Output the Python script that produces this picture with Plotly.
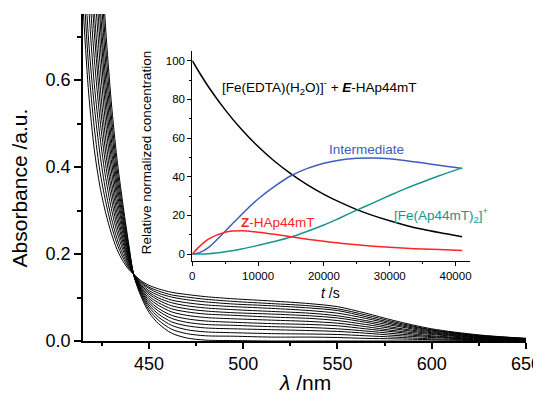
import plotly.graph_objects as go

# ---------------- main spectra data ----------------
wavelength = [415, 418, 421, 424, 427, 430, 433, 436, 439, 442, 446, 450, 455, 462,
              470, 480, 495, 515, 535, 550, 565, 580, 600, 625, 650]

spec_00 = [2.0, 1.6, 1.25, 0.95, 0.72, 0.55, 0.42, 0.32, 0.23, 0.15, 0.10, 0.066, 0.04, 0.018, 0.007, 0.002, 0.001, 0.0, 0.0, 0.0, 0.0, 0.0, 0.0, 0.0, 0.001]
spec_01 = [1.88, 1.50, 1.17, 0.89, 0.678, 0.520, 0.399, 0.307, 0.224, 0.150, 0.104, 0.072, 0.048, 0.027, 0.017, 0.012, 0.011, 0.009, 0.009, 0.008, 0.006, 0.005, 0.003, 0.001, 0.002]
spec_02 = [1.77, 1.40, 1.10, 0.84, 0.639, 0.493, 0.380, 0.294, 0.218, 0.151, 0.107, 0.078, 0.055, 0.036, 0.026, 0.021, 0.019, 0.017, 0.016, 0.015, 0.012, 0.009, 0.005, 0.003, 0.002]
spec_03 = [1.66, 1.31, 1.02, 0.78, 0.601, 0.465, 0.362, 0.282, 0.212, 0.151, 0.111, 0.083, 0.062, 0.044, 0.035, 0.030, 0.028, 0.026, 0.024, 0.022, 0.018, 0.013, 0.008, 0.004, 0.002]
spec_04 = [1.56, 1.23, 0.96, 0.74, 0.567, 0.441, 0.345, 0.271, 0.207, 0.151, 0.114, 0.088, 0.069, 0.052, 0.043, 0.038, 0.036, 0.033, 0.031, 0.028, 0.023, 0.017, 0.010, 0.005, 0.003]
spec_05 = [1.46, 1.15, 0.89, 0.69, 0.533, 0.417, 0.328, 0.261, 0.202, 0.151, 0.117, 0.093, 0.075, 0.059, 0.051, 0.046, 0.043, 0.040, 0.038, 0.035, 0.028, 0.021, 0.012, 0.006, 0.003]
spec_06 = [1.36, 1.06, 0.83, 0.64, 0.499, 0.393, 0.311, 0.250, 0.197, 0.152, 0.120, 0.098, 0.082, 0.067, 0.059, 0.054, 0.051, 0.048, 0.045, 0.041, 0.033, 0.024, 0.015, 0.007, 0.004]
spec_07 = [1.26, 0.98, 0.76, 0.59, 0.465, 0.369, 0.295, 0.239, 0.192, 0.152, 0.123, 0.103, 0.088, 0.074, 0.067, 0.062, 0.059, 0.055, 0.052, 0.047, 0.038, 0.028, 0.017, 0.008, 0.004]
spec_08 = [1.18, 0.91, 0.71, 0.55, 0.435, 0.348, 0.280, 0.230, 0.187, 0.152, 0.125, 0.108, 0.094, 0.081, 0.074, 0.069, 0.065, 0.062, 0.058, 0.053, 0.043, 0.031, 0.019, 0.009, 0.004]
spec_09 = [1.09, 0.84, 0.65, 0.51, 0.406, 0.327, 0.265, 0.220, 0.183, 0.152, 0.128, 0.112, 0.099, 0.088, 0.081, 0.076, 0.072, 0.068, 0.064, 0.058, 0.047, 0.035, 0.021, 0.010, 0.005]
spec_10 = [1.00, 0.77, 0.59, 0.47, 0.376, 0.305, 0.251, 0.211, 0.178, 0.152, 0.131, 0.116, 0.105, 0.094, 0.088, 0.083, 0.079, 0.075, 0.070, 0.064, 0.052, 0.038, 0.023, 0.011, 0.005]
spec_11 = [0.92, 0.69, 0.54, 0.43, 0.346, 0.284, 0.236, 0.201, 0.174, 0.153, 0.133, 0.121, 0.110, 0.101, 0.095, 0.090, 0.085, 0.081, 0.076, 0.070, 0.056, 0.041, 0.025, 0.012, 0.005]
spec_12 = [0.84, 0.63, 0.49, 0.39, 0.321, 0.266, 0.224, 0.193, 0.170, 0.153, 0.136, 0.124, 0.115, 0.106, 0.101, 0.096, 0.091, 0.086, 0.081, 0.074, 0.060, 0.044, 0.026, 0.013, 0.006]
spec_13 = [0.77, 0.57, 0.44, 0.355, 0.295, 0.248, 0.211, 0.185, 0.166, 0.153, 0.138, 0.128, 0.120, 0.112, 0.107, 0.102, 0.097, 0.092, 0.086, 0.079, 0.064, 0.047, 0.028, 0.014, 0.006]

spectra = [spec_00, spec_01, spec_02, spec_03, spec_04, spec_05, spec_06,
           spec_07, spec_08, spec_09, spec_10, spec_11, spec_12, spec_13]

# ---------------- inset kinetics data ----------------
time_s = [0, 1000, 2500, 5000, 7500, 10000, 12500, 15000, 17500, 20000,
          22500, 25000, 27500, 30000, 32500, 35000, 37500, 41000]
conc_fe_edta = [100, 94.3, 86.3, 74.6, 64.4, 55.6, 48.0, 41.5, 35.8, 30.9, 26.7, 23.0, 19.9, 17.2, 14.8, 12.8, 11.1, 9.0]
conc_z = [0, 3.6, 7.8, 11.3, 12.0, 11.3, 10.2, 8.9, 7.7, 6.6, 5.6, 4.8, 4.1, 3.5, 3.0, 2.6, 2.3, 1.9]
conc_intermediate = [0, 0.6, 3.5, 11.8, 20.5, 28.5, 35.0, 40.5, 44.3, 47.0, 48.7, 49.5, 49.7, 49.3, 48.3, 47.2, 45.9, 44.3]
conc_product = [0, 0.0, 0.2, 1.2, 2.6, 4.5, 6.5, 8.8, 11.8, 15.0, 18.8, 22.7, 26.5, 30.3, 34.0, 37.3, 40.5, 44.6]

x_ticks_main = [450, 500, 550, 600, 650]
y_ticks_main = [0.0, 0.2, 0.4, 0.6]
x_ticks_inset = [0, 10000, 20000, 30000, 40000]
y_ticks_inset = [0, 20, 40, 60, 80, 100]

BLACK = "#000000"
BLUE = "#3f5cbf"
RED = "#ff2424"
TEAL = "#14968c"
FONT = "Arial, Liberation Sans, sans-serif"

fig = go.Figure()

for s in spectra:
    fig.add_trace(go.Scatter(x=wavelength, y=s, mode="lines",
                             line=dict(color=BLACK, width=1, shape="spline", smoothing=0.8),
                             xaxis="x", yaxis="y", showlegend=False, hoverinfo="skip"))

for vals, col in [(conc_fe_edta, BLACK), (conc_intermediate, BLUE),
                  (conc_product, TEAL), (conc_z, RED)]:
    fig.add_trace(go.Scatter(x=time_s, y=vals, mode="lines",
                             line=dict(color=col, width=1.5, shape="spline", smoothing=0.8),
                             xaxis="x2", yaxis="y2", showlegend=False, hoverinfo="skip"))

main_axis_common = dict(showline=True, linecolor=BLACK, linewidth=1.5, ticks="outside",
                        tickcolor=BLACK, tickwidth=1.5, showgrid=False, zeroline=False,
                        tickfont=dict(family=FONT, size=18, color=BLACK), mirror=False,
                        automargin=False)
inset_axis_common = dict(showline=True, linecolor=BLACK, linewidth=1, ticks="outside",
                         tickcolor=BLACK, tickwidth=1, ticklen=4, showgrid=False, zeroline=False,
                         tickfont=dict(family=FONT, size=11.5, color=BLACK), mirror=False,
                         automargin=False)

# the page body adds an 8px offset, so margins are reduced by 8px on the left/top
fig.update_layout(
    width=541, height=402,
    margin=dict(l=75, r=23, t=6, b=69),
    paper_bgcolor="white", plot_bgcolor="rgba(0,0,0,0)",
    xaxis=dict(range=[415, 650], tickvals=x_ticks_main, ticklen=6,
               minor=dict(dtick=25, tick0=425, ticklen=3, tickwidth=1.5, tickcolor=BLACK, ticks="outside"),
               **main_axis_common),
    yaxis=dict(range=[0, 0.752], tickvals=y_ticks_main, tickformat=".1f", ticklen=7,
               minor=dict(dtick=0.1, tick0=0, ticklen=4, tickwidth=1.5, tickcolor=BLACK, ticks="outside"),
               **main_axis_common),
    xaxis2=dict(domain=[0.2467, 0.8736], anchor="y2", range=[0, 42200],
                tickvals=x_ticks_inset, tickformat="d",
                minor=dict(dtick=5000, tick0=0, ticklen=2, tickwidth=1, tickcolor=BLACK, ticks="outside"),
                **inset_axis_common),
    yaxis2=dict(domain=[0.2446, 0.8878], anchor="x2", range=[-3.6, 105.2],
                tickvals=y_ticks_inset,
                minor=dict(dtick=10, tick0=0, ticklen=2, tickwidth=1, tickcolor=BLACK, ticks="outside"),
                **inset_axis_common),
)

ann = []
ann.append(dict(text="Absorbance /a.u.", xref="paper", yref="paper", x=-0.1433, y=0.468,
                textangle=-90, showarrow=False, font=dict(family=FONT, size=21, color=BLACK),
                xanchor="center", yanchor="middle"))
ann.append(dict(text="<i>λ</i> /nm", xref="paper", yref="paper", x=0.5, y=-0.128,
                showarrow=False, font=dict(family=FONT, size=21, color=BLACK),
                xanchor="center", yanchor="middle"))
ann.append(dict(text="Relative normalized concentration", xref="paper", yref="paper",
                x=0.1438, y=0.5765, textangle=-90, showarrow=False,
                font=dict(family=FONT, size=13.5, color=BLACK), xanchor="center", yanchor="middle"))
ann.append(dict(text="<i>t</i> /s", xref="paper", yref="paper", x=0.5598, y=0.1477,
                showarrow=False, font=dict(family=FONT, size=14, color=BLACK),
                xanchor="center", yanchor="middle"))
ann.append(dict(text="[Fe(EDTA)(H<sub>2</sub>O)]<sup>-</sup> + <b><i>E</i></b>-HAp44mT",
                xref="x2", yref="y2", x=19330, y=86.6, showarrow=False,
                font=dict(family=FONT, size=13.5, color=BLACK), xanchor="center", yanchor="middle"))
ann.append(dict(text="Intermediate", xref="x2", yref="y2", x=26400, y=54.3, showarrow=False,
                font=dict(family=FONT, size=13.5, color=BLUE), xanchor="center", yanchor="middle"))
ann.append(dict(text="<b>Z</b>-HAp44mT", xref="x2", yref="y2", x=12950, y=16.2, showarrow=False,
                font=dict(family=FONT, size=13.5, color=RED), xanchor="center", yanchor="middle"))
ann.append(dict(text="[Fe(Ap44mT)<sub>2</sub>]<sup>+</sup>", xref="x2", yref="y2", x=37900, y=20.2,
                showarrow=False, font=dict(family=FONT, size=13.5, color=TEAL),
                xanchor="center", yanchor="middle"))
fig.update_layout(annotations=ann)

fig.write_html("out.html")
